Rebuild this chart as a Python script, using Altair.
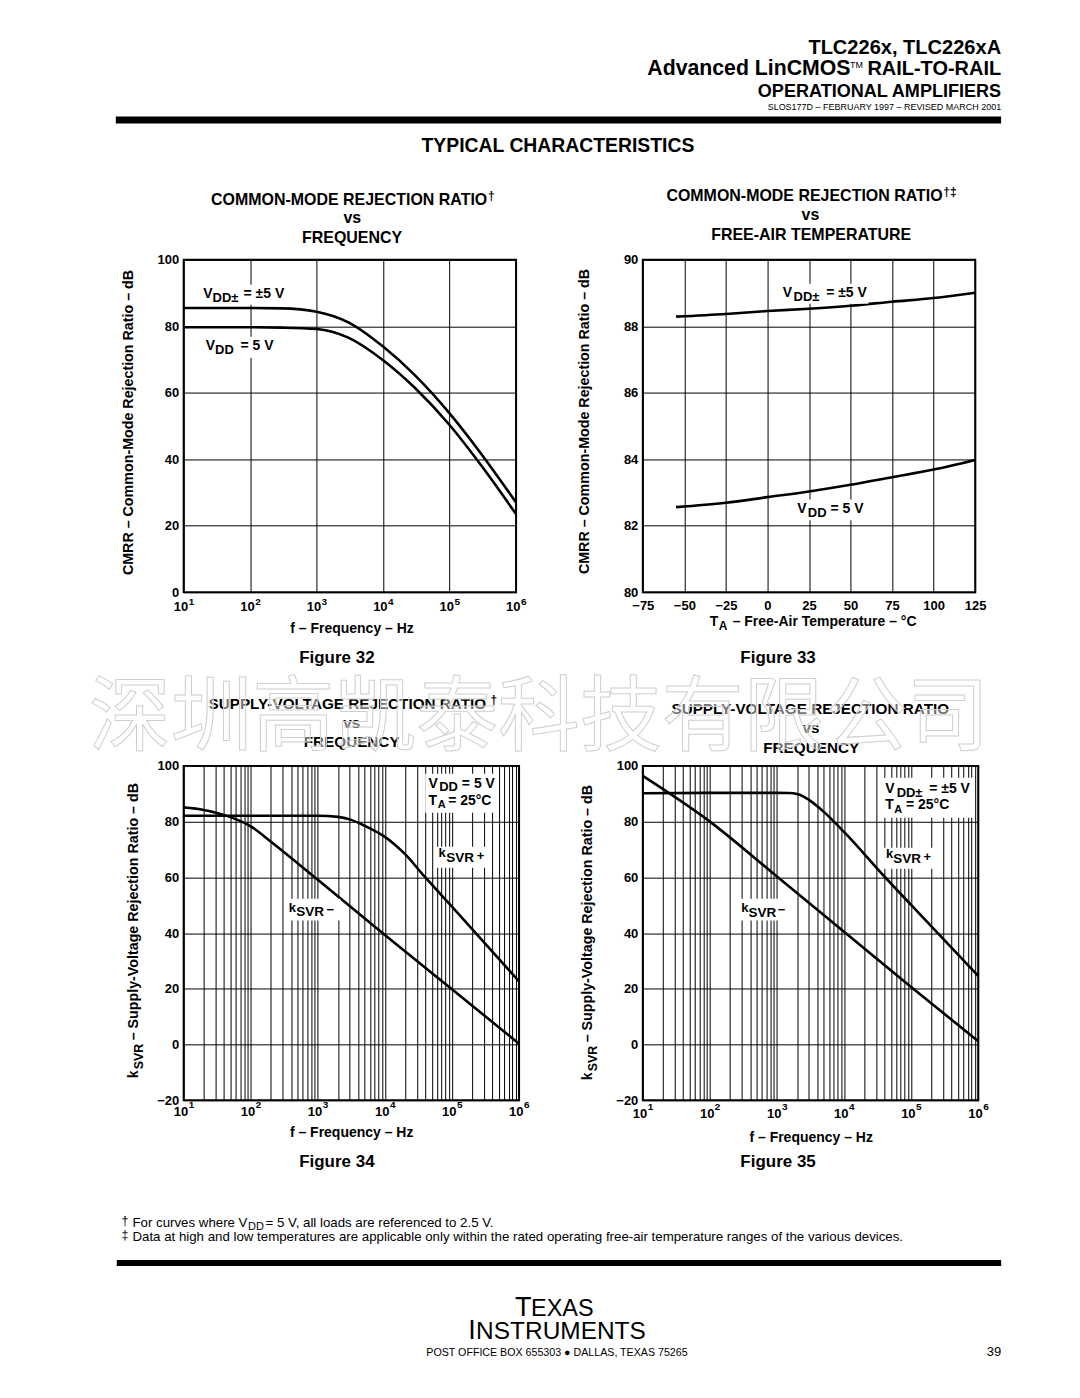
import altair as alt
import pandas as pd

# ---------------- data ----------------
FREQ32 = [10, 100, 300, 1000, 3000, 10000, 30000, 100000, 300000, 1000000]
CMRR32_SPLIT = [85.5, 85.5, 85.4, 84.4, 81.2, 73.9, 65.3, 53.8, 41.6, 27.0]
CMRR32_SINGLE = [79.7, 79.7, 79.6, 79.2, 76.6, 69.8, 61.5, 50.3, 38.1, 23.5]

TEMP33 = [-55, -25, 0, 25, 50, 75, 100, 125]
CMRR33_SPLIT = [88.29, 88.37, 88.46, 88.53, 88.62, 88.74, 88.85, 89.01]
CMRR33_SINGLE = [82.56, 82.69, 82.86, 83.03, 83.23, 83.46, 83.69, 83.98]

FREQ34_POS = [10, 100, 1000, 2000, 3000, 5000, 10000, 13000, 20000, 38600, 100000, 226000, 1000000]
KSVR34_POS = [82.1, 82.1, 82.1, 81.7, 80.8, 78.5, 74.5, 72.4, 68.3, 60.4, 49.5, 40.0, 22.7]
FREQ34_NEG = [10, 20, 50, 100, 200, 1000, 10000, 100000, 1000000]
KSVR34_NEG = [85.1, 84.2, 81.6, 78.3, 72.8, 59.1, 39.3, 19.8, 0.3]

FREQ35_POS = [10, 100, 1000, 1500, 2000, 2500, 3000, 5000, 10000, 40000, 100000, 1000000]
KSVR35_POS = [90.2, 90.3, 90.3, 90.25, 89.9, 89.0, 87.8, 83.5, 76.3, 60.3, 50.1, 24.6]
FREQ35_NEG = [10, 100, 1000, 10000, 100000, 1000000]
KSVR35_NEG = [96.4, 80.0, 60.3, 40.5, 20.6, 1.2]

DECADES = [10, 100, 1000, 10000, 100000, 1000000]
DECADE_EXP = ["1", "2", "3", "4", "5", "6"]
MINOR_GRID = [k * 10 ** d for d in range(1, 6) for k in range(1, 10)] + [1000000]
Y32 = [0, 20, 40, 60, 80, 100]
Y33 = [80, 82, 84, 86, 88, 90]
X33 = [-75, -50, -25, 0, 25, 50, 75, 100, 125]
Y34 = [-20, 0, 20, 40, 60, 80, 100]

# ---------------- helpers ----------------
FONT = "Liberation Sans"
CJK = "Noto Sans CJK SC"
ONE = pd.DataFrame({"k": [0]})

O32 = (183, 258)
O33 = (643, 258)
O34 = (183, 765)
O35 = (643, 765)


def T(s, x, y, O, size=13, weight="bold", align="left", angle=None, font=FONT,
      color="black", baseline="alphabetic", **kw):
    props = dict(text=s, fontSize=size, fontWeight=weight, align=align,
                 baseline=baseline, font=font, color=color)
    if angle is not None:
        props["angle"] = angle
    props.update(kw)
    return alt.Chart(ONE).mark_text(**props).encode(
        x=alt.value(x - O[0]), y=alt.value(y - O[1]))


def B(x1, y1, x2, y2, O, color="white", **kw):
    return alt.Chart(ONE).mark_rect(color=color, **kw).encode(
        x=alt.value(x1 - O[0]), x2=alt.value(x2 - O[0]),
        y=alt.value(y1 - O[1]), y2=alt.value(y2 - O[1]))


def log_scale():
    return alt.Scale(type="log", domain=[10, 1000000], nice=False)


def lin_scale(lo, hi):
    return alt.Scale(domain=[lo, hi], nice=False, zero=False)


def log_axis(vals):
    return alt.Axis(values=vals, grid=True, labels=False, title=None)


def yaxis(vals):
    return alt.Axis(values=vals, grid=True, format="d", title=None, labelPadding=5,
                    labelFlush=False, labelOverlap=False)


def curves(df, xenc, yenc):
    return alt.Chart(df).mark_line(color="black", strokeWidth=2.6,
                                   interpolate="monotone").encode(
        x=xenc, y=yenc, detail="s:N")


def decade_labels(base_y, exp_y, O, grid_vals):
    df = pd.DataFrame({"f": DECADES, "e": DECADE_EXP})
    base = alt.Chart(df).mark_text(text="10", align="right", dx=4.5, fontSize=13,
                                   fontWeight="bold", font=FONT, baseline="alphabetic",
                                   color="black").encode(
        x=alt.X("f:Q", scale=log_scale(), axis=log_axis(grid_vals)),
        y=alt.value(base_y - O[1]))
    exp = alt.Chart(df).mark_text(align="left", dx=5, fontSize=10, fontWeight="bold",
                                  font=FONT, baseline="alphabetic", color="black").encode(
        x=alt.X("f:Q", scale=log_scale(), axis=log_axis(grid_vals)),
        y=alt.value(exp_y - O[1]), text="e:N")
    return [base, exp]


# ---------------- Figure 32 ----------------
df32 = pd.concat([pd.DataFrame({"f": FREQ32, "v": CMRR32_SPLIT, "s": "split"}),
                  pd.DataFrame({"f": FREQ32, "v": CMRR32_SINGLE, "s": "single"})])
O = O32
p32_layers = [
    B(8, 8, 1072, 1390, O, opacity=0),
    curves(df32,
           alt.X("f:Q", scale=log_scale(), axis=log_axis(DECADES)),
           alt.Y("v:Q", scale=lin_scale(0, 100), axis=yaxis(Y32))),
    B(200, 283, 288, 303, O), B(203, 335, 274, 356, O),
    T("V", 202.7, 296, O, size=14), T("DD±", 212, 300, O, size=13), T("= ±5 V", 243, 296, O, size=14),
    T("V", 205, 348.3, O, size=14), T("DD", 214.5, 352.5, O, size=13), T("= 5 V", 240, 348.3, O, size=14),
    *decade_labels(610, 603.5, O, DECADES),
    T("COMMON-MODE REJECTION RATIO", 348.8, 203.3, O, size=16, align="center"),
    T("†", 488, 198, O, size=12),
    T("vs", 352, 221, O, size=16, align="center"),
    T("FREQUENCY", 351.7, 241.5, O, size=16, align="center"),
    T("f – Frequency – Hz", 351.7, 632, O, size=14, align="center"),
    T("CMRR – Common-Mode Rejection Ratio – dB", 128, 421, O, size=14.3, align="center",
      angle=270, baseline="middle"),
    T("Figure 32", 336.5, 662, O, size=17, align="center"),
    # page header
    T("TLC226x, TLC226xA", 1002, 51.7, O, size=20.1, align="right"),
    T("RAIL-TO-RAIL", 1002, 73.3, O, size=20, align="right"),
    T("TM", 863.5, 65.5, O, size=9, weight="normal", align="right"),
    T("Advanced LinCMOS", 851, 73.3, O, size=21.3, align="right"),
    T("OPERATIONAL AMPLIFIERS", 1002, 95, O, size=18.1, align="right"),
    T("SLOS177D – FEBRUARY 1997 – REVISED  MARCH 2001", 1002, 107.8, O, size=9,
      weight="normal", align="right"),
    B(115, 114.5, 1002, 121.5, O, color="black"),
    T("TYPICAL CHARACTERISTICS", 558, 150, O, size=19.4, align="center"),
    # footnotes and footer
    T("†", 120.7, 1224.5, O, size=12.5, weight="normal"),
    T("For curves where V", 131.7, 1226.5, O, size=13.3, weight="normal"),
    T("DD", 247.5, 1229.5, O, size=11, weight="normal"),
    T("= 5 V, all loads are referenced to 2.5 V.", 265, 1226.5, O, size=13.3, weight="normal"),
    T("‡", 120.7, 1239, O, size=12.5, weight="normal"),
    T("Data at high and low temperatures are applicable only within the rated operating "
      "free-air temperature ranges of the various devices.", 131.7, 1241, O, size=13.3,
      weight="normal"),
    B(116, 1260, 1002, 1266, O, color="black"),
    T("T", 515, 1316, O, size=27, weight="normal"),
    T("EXAS", 531, 1316, O, size=23.5, weight="normal"),
    T("I", 468, 1339, O, size=27, weight="normal"),
    T("NSTRUMENTS", 476, 1339, O, size=24.5, weight="normal"),
    T("POST OFFICE BOX 655303 ● DALLAS, TEXAS 75265", 557, 1356, O, size=10.7,
      weight="normal", align="center"),
    T("39", 1002, 1356, O, size=13, weight="normal", align="right"),
]
p32 = alt.layer(*p32_layers).properties(width=333, height=333)

# ---------------- Figure 33 ----------------
df33 = pd.concat([pd.DataFrame({"t": TEMP33, "v": CMRR33_SPLIT, "s": "split"}),
                  pd.DataFrame({"t": TEMP33, "v": CMRR33_SINGLE, "s": "single"})])
O = O33
p33_layers = [
    curves(df33,
           alt.X("t:Q", scale=lin_scale(-75, 125),
                 axis=alt.Axis(values=X33, grid=True, format="d", title=None, labelPadding=7,
                               labelFlush=False, labelOverlap=False)),
           alt.Y("v:Q", scale=lin_scale(80, 90), axis=yaxis(Y33))),
    B(781, 282, 869, 302, O), B(795, 498, 866, 519, O),
    T("V", 783.3, 295, O, size=14), T("DD±", 794, 299.3, O, size=13), T("= ±5 V", 826.7, 295, O, size=14),
    T("V", 797.7, 511.7, O, size=14), T("DD", 808.3, 515.5, O, size=13), T("= 5 V", 831, 511.7, O, size=14),
    T("COMMON-MODE REJECTION RATIO", 805, 199.3, O, size=16, align="center"),
    T("†‡", 944, 194, O, size=12),
    T("vs", 811, 218.3, O, size=16, align="center"),
    T("FREE-AIR TEMPERATURE", 811.7, 238.3, O, size=16, align="center"),
    T("T", 710, 625, O, size=14), T("A", 719, 628.5, O, size=12),
    T("– Free-Air Temperature – °C", 733, 625, O, size=14),
    T("CMRR – Common-Mode Rejection Ratio – dB", 585, 420, O, size=14.3, align="center",
      angle=270, baseline="middle"),
    T("Figure 33", 778.5, 662, O, size=17, align="center"),
]
p33 = alt.layer(*p33_layers).properties(width=333, height=333)

# ---------------- Figure 34 ----------------
df34 = pd.concat([pd.DataFrame({"f": FREQ34_POS, "v": KSVR34_POS, "s": "pos"}),
                  pd.DataFrame({"f": FREQ34_NEG, "v": KSVR34_NEG, "s": "neg"})])
O = O34
p34_layers = [
    curves(df34,
           alt.X("f:Q", scale=log_scale(), axis=log_axis(MINOR_GRID)),
           alt.Y("v:Q", scale=lin_scale(-20, 100), axis=yaxis(Y34))),
    B(425, 773, 496, 812, O), B(434, 846, 486, 867, O), B(285, 898, 340, 920, O),
    T("V", 428.3, 787.3, O, size=14), T("DD", 439, 790.5, O, size=13), T("= 5 V", 461.7, 787.3, O, size=14),
    T("T", 428.3, 804, O, size=14), T("A", 437.5, 807.5, O, size=11), T("= 25°C", 448, 804, O, size=14),
    T("k", 438.3, 856.7, O, size=13), T("SVR", 446, 861.5, O, size=13.5), T("+", 476.7, 859, O, size=13),
    T("k", 288.3, 911.7, O, size=13), T("SVR", 295.7, 915.5, O, size=13.5), T("−", 326, 913, O, size=13),
    *decade_labels(1116, 1107.5, O, MINOR_GRID),
    T("SUPPLY-VOLTAGE REJECTION RATIO", 347, 708.3, O, size=15.3, align="center"),
    T("†", 490.5, 703, O, size=12),
    T("vs", 351.5, 726.7, O, size=15.3, align="center"),
    T("FREQUENCY", 351.3, 746.5, O, size=15.3, align="center"),
    T("f – Frequency – Hz", 351.3, 1137, O, size=14, align="center"),
    T("k", 133, 1078, O, size=14, angle=270, baseline="middle"),
    T("SVR", 138.5, 1069, O, size=12.5, angle=270, baseline="middle"),
    T("– Supply-Voltage Rejection Ratio – dB", 133, 1040, O, size=14.3, angle=270, baseline="middle"),
    T("Figure 34", 336.5, 1167, O, size=17, align="center"),
]
p34 = alt.layer(*p34_layers).properties(width=336, height=335)

# ---------------- Figure 35 ----------------
df35 = pd.concat([pd.DataFrame({"f": FREQ35_POS, "v": KSVR35_POS, "s": "pos"}),
                  pd.DataFrame({"f": FREQ35_NEG, "v": KSVR35_NEG, "s": "neg"})])
O = O35
p35_layers = [
    curves(df35,
           alt.X("f:Q", scale=log_scale(), axis=log_axis(MINOR_GRID)),
           alt.Y("v:Q", scale=lin_scale(-20, 100), axis=yaxis(Y34))),
    B(883, 777, 975, 817, O), B(883, 847, 934, 868, O), B(739, 898, 790, 920, O),
    T("V", 886, 791.7, O, size=14), T("DD±", 897.3, 796, O, size=13), T("= ±5 V", 930, 791.7, O, size=14),
    T("T", 886, 808.3, O, size=14), T("A", 895, 812, O, size=11), T("= 25°C", 906.7, 808.3, O, size=14),
    T("k", 886.7, 857.5, O, size=13), T("SVR", 894, 862.5, O, size=13.5), T("+", 924.3, 860, O, size=13),
    T("k", 741.7, 911.7, O, size=13), T("SVR", 749, 916, O, size=13.5), T("−", 778.3, 913, O, size=13),
    *decade_labels(1117.5, 1109.5, O, MINOR_GRID),
    T("SUPPLY-VOLTAGE REJECTION RATIO", 810.8, 713.3, O, size=15.3, align="center"),
    T("vs", 811.5, 731.7, O, size=15.3, align="center"),
    T("FREQUENCY", 811.7, 752.5, O, size=15.3, align="center"),
    T("f – Frequency – Hz", 811.7, 1142, O, size=14, align="center"),
    T("k", 588, 1080, O, size=14, angle=270, baseline="middle"),
    T("SVR", 593.5, 1071, O, size=12.5, angle=270, baseline="middle"),
    T("– Supply-Voltage Rejection Ratio – dB", 588, 1042, O, size=14.3, angle=270, baseline="middle"),
    T("Figure 35", 778.5, 1167, O, size=17, align="center"),
    # watermark across the page
    T("深圳高凯泰科技有限公司", 539, 743, O, size=82, weight="normal", font=CJK,
      align="center", color="white", fillOpacity=0.45, stroke="#cfcfcf", strokeWidth=1),
]
p35 = alt.layer(*p35_layers).properties(width=336, height=335)

chart = alt.concat(
    p32, p33, p34, p35, columns=2,
    spacing={"row": 174, "column": 124}, bounds="flush",
    padding=0, background="white",
).configure_view(
    stroke="black", strokeWidth=2,
).configure_axis(
    grid=True, gridColor="black", gridWidth=1, gridOpacity=1,
    domain=False, ticks=False, tickSize=0,
    labelFont=FONT, labelFontWeight="bold", labelFontSize=13, labelColor="black",
)

chart.save("out.html", embed_options={"renderer": "svg", "actions": False})
